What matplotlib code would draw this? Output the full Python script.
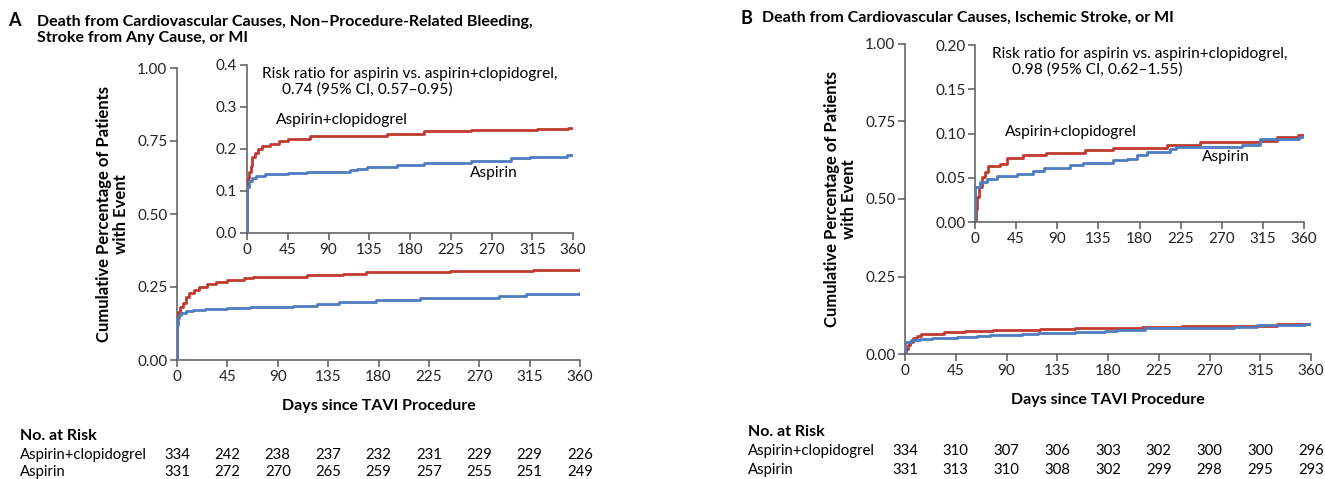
import matplotlib.pyplot as plt
import matplotlib.transforms as mtransforms

plt.rcParams['font.family'] = ['Lato', 'DejaVu Sans']

RED = '#c13a2e'
BLUE = '#4d7cc0'
AXIS_GRAY = '#5a5a5a'

days_ticks = [0, 45, 90, 135, 180, 225, 270, 315, 360]

# Panel A, main axes
a_main_red_t = [0, 1, 3, 5, 8, 11, 15, 20, 27, 35, 45, 60, 68, 116, 148, 169, 244, 318, 360]
a_main_red_y = [0.15, 0.165, 0.18, 0.195, 0.215, 0.23, 0.24, 0.25, 0.26, 0.268, 0.275, 0.28, 0.284,
                0.29, 0.295, 0.301, 0.305, 0.309, 0.3125]
a_main_blue_t = [0, 1, 2, 4, 8, 14, 25, 45, 65, 104, 125, 145, 178, 217, 288, 312, 360]
a_main_blue_y = [0.12, 0.145, 0.155, 0.162, 0.167, 0.172, 0.175, 0.177, 0.182, 0.185, 0.193, 0.199,
                 0.207, 0.2125, 0.218, 0.227, 0.23]

# Panel A, inset
a_ins_red_t = [0, 1, 2, 4, 6, 9, 12, 17, 25, 35, 45, 70, 155, 195, 247, 320, 355, 360]
a_ins_red_y = [0.11, 0.13, 0.145, 0.16, 0.18, 0.19, 0.2, 0.207, 0.212, 0.22, 0.223, 0.231, 0.236,
               0.242, 0.246, 0.247, 0.25, 0.25]
a_ins_blue_t = [0, 0.5, 2, 5, 10, 20, 45, 66, 114, 121, 132, 166, 195, 247, 291, 313, 353, 360]
a_ins_blue_y = [0.08, 0.11, 0.125, 0.13, 0.135, 0.14, 0.143, 0.145, 0.149, 0.153, 0.157, 0.162, 0.166,
                0.172, 0.178, 0.182, 0.185, 0.185]

# Panel B (main and inset share the same curves)
b_red_t = [0, 1, 2.5, 4.7, 7.3, 11, 14.6, 27, 35, 53, 78, 120, 151, 210, 246, 312, 330, 353, 360]
b_red_y = [0.0, 0.015, 0.028, 0.04, 0.051, 0.057, 0.063, 0.066, 0.0725, 0.0755, 0.078, 0.081, 0.084,
           0.087, 0.09, 0.0913, 0.0955, 0.098, 0.098]
b_blue_t = [0, 0.4, 5.5, 13, 24, 46, 64, 75, 104, 118, 151, 166, 177, 188, 213, 220, 292, 312, 355, 360]
b_blue_y = [0.0, 0.04, 0.045, 0.049, 0.052, 0.0547, 0.058, 0.061, 0.064, 0.067, 0.07, 0.0717, 0.0755,
            0.079, 0.083, 0.085, 0.087, 0.0936, 0.096, 0.096]

# Numbers at risk
risk_labels = ['Aspirin+clopidogrel', 'Aspirin']
a_risk_combo = [334, 242, 238, 237, 232, 231, 229, 229, 226]
a_risk_aspirin = [331, 272, 270, 265, 259, 257, 255, 251, 249]
b_risk_combo = [334, 310, 307, 306, 303, 302, 300, 300, 296]
b_risk_aspirin = [331, 313, 310, 308, 302, 299, 298, 295, 293]

W, H = 1325, 479
fig = plt.figure(figsize=(W / 100, H / 100), dpi=100)


def px_axes(left, top, right, bottom):
    # convert pixel box to figure fraction
    return fig.add_axes([left / W, 1 - bottom / H, (right - left) / W, (bottom - top) / H])


def style_axes(ax, yticks, yfmt):
    for side in ['top', 'right']:
        ax.spines[side].set_visible(False)
    for side in ['left', 'bottom']:
        ax.spines[side].set_color(AXIS_GRAY)
        ax.spines[side].set_linewidth(1.1)
    ax.set_xlim(0, 360)
    ax.set_ylim(yticks[0], yticks[-1])
    ax.set_xticks(days_ticks)
    ax.set_yticks(yticks)
    ax.set_yticklabels([yfmt % v for v in yticks])
    ax.tick_params(direction='out', length=5, width=1.1, color=AXIS_GRAY,
                   labelsize=11, labelcolor='#222222', pad=2)
    ax.patch.set_alpha(0)


def draw_curves(ax, rt, ry, bt, by):
    ax.step([0] + rt, [0] + ry, where='post', color=RED, lw=2.0, zorder=3)
    ax.step([0] + bt, [0] + by, where='post', color=BLUE, lw=2.0, zorder=4)


def risk_table(ax, y_head, y1, y2, x_lab, combo, asp):
    fig.text(x_lab / W, 1 - y_head / H, 'No. at Risk', fontsize=11.5, fontweight='bold',
             va='center', ha='left')
    trans = mtransforms.blended_transform_factory(ax.transData, fig.transFigure)
    for lab, vals, yy in [(risk_labels[0], combo, y1), (risk_labels[1], asp, y2)]:
        fig.text(x_lab / W, 1 - yy / H, lab, fontsize=10.7, va='center', ha='left')
        for d, v in zip(days_ticks, vals):
            ax.text(d, 1 - yy / H, str(v), transform=trans, fontsize=10.7,
                    va='center', ha='center', clip_on=False)


# ---------------- Panel A ----------------
axA = px_axes(177, 68, 580, 360)
style_axes(axA, [0, 0.25, 0.5, 0.75, 1.0], '%.2f')
draw_curves(axA, a_main_red_t, a_main_red_y, a_main_blue_t, a_main_blue_y)
axA.set_xlabel('Days since TAVI Procedure', fontsize=11.5, fontweight='bold', labelpad=11)
axA.set_ylabel('Cumulative Percentage of Patients\nwith Event', fontsize=12,
               fontweight='bold', labelpad=6, linespacing=1.05)

insA = px_axes(247, 65, 573, 233)
style_axes(insA, [0, 0.1, 0.2, 0.3, 0.4], '%.1f')
draw_curves(insA, a_ins_red_t, a_ins_red_y, a_ins_blue_t, a_ins_blue_y)
insA.text(17, 0.395, 'Risk ratio for aspirin vs. aspirin+clopidogrel,\n     0.74 (95% CI, 0.57\u20130.95)',
          fontsize=11.2, va='top', ha='left', linespacing=1.1)
insA.text(32, 0.269, 'Aspirin+clopidogrel', fontsize=11.2, va='center', ha='left')
insA.text(246, 0.143, 'Aspirin', fontsize=11.2, va='center', ha='left')

fig.text(8 / W, 1 - 20 / H, 'A', fontsize=13, fontweight='bold', va='center')
fig.text(37 / W, 1 - 30 / H,
         'Death from Cardiovascular Causes, Non\u2013Procedure-Related Bleeding,\nStroke from Any Cause, or MI',
         fontsize=11.5, fontweight='bold', va='center', ha='left', linespacing=1.15)

risk_table(axA, 436, 455, 472, 20, a_risk_combo, a_risk_aspirin)

# ---------------- Panel B ----------------
axB = px_axes(905, 44, 1311, 354)
style_axes(axB, [0, 0.25, 0.5, 0.75, 1.0], '%.2f')
draw_curves(axB, b_red_t, b_red_y, b_blue_t, b_blue_y)
axB.set_xlabel('Days since TAVI Procedure', fontsize=11.5, fontweight='bold', labelpad=11)
axB.set_ylabel('Cumulative Percentage of Patients\nwith Event', fontsize=12,
               fontweight='bold', labelpad=6, linespacing=1.05)

insB = px_axes(975, 45, 1304, 222)
style_axes(insB, [0, 0.05, 0.10, 0.15, 0.20], '%.2f')
draw_curves(insB, b_red_t, b_red_y, b_blue_t, b_blue_y)
insB.text(18.5, 0.1975, 'Risk ratio for aspirin vs. aspirin+clopidogrel,\n     0.98 (95% CI, 0.62\u20131.55)',
          fontsize=11.2, va='top', ha='left', linespacing=1.1)
insB.text(33, 0.1017, 'Aspirin+clopidogrel', fontsize=11.2, va='center', ha='left')
insB.text(248, 0.0734, 'Aspirin', fontsize=11.2, va='center', ha='left')

fig.text(740 / W, 1 - 18 / H, 'B', fontsize=13, fontweight='bold', va='center')
fig.text(762 / W, 1 - 18 / H, 'Death from Cardiovascular Causes, Ischemic Stroke, or MI',
         fontsize=11.5, fontweight='bold', va='center', ha='left')

risk_table(axB, 432, 451, 470, 748, b_risk_combo, b_risk_aspirin)

fig.savefig('out.png', dpi=100)
